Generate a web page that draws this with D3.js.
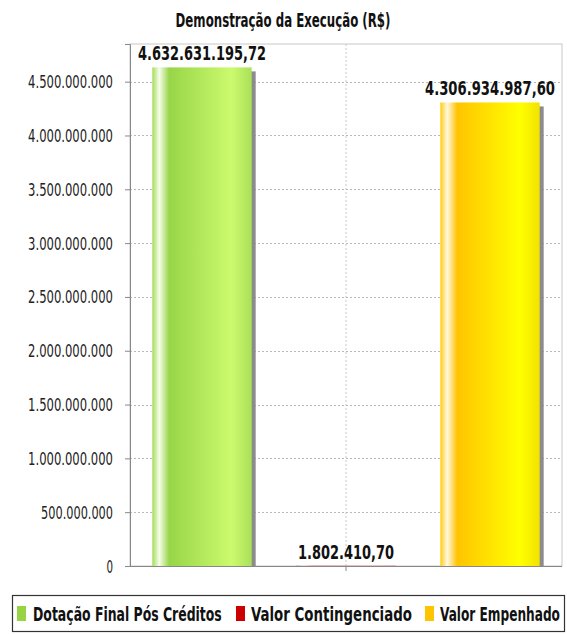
<!DOCTYPE html>
<html>
<head>
<meta charset="utf-8">
<script src="https://cdn.jsdelivr.net/npm/d3@7"></script>
<style>
  body { margin: 0; background: #fff; }
  svg { display: block; }
  text { font-family: "DejaVu Sans Condensed", "DejaVu Sans", sans-serif; }
</style>
</head>
<body>
<svg id="chart" width="567" height="634"></svg>
<script>
// ---- data ----
const title = "Demonstração da Execução (R$)";
const seriesNames = ["Dotação Final Pós Créditos", "Valor Contingenciado", "Valor Empenhado"];
const seriesValues = [4632631195.72, 1802410.70, 4306934987.60];
const valueLabels = ["4.632.631.195,72", "1.802.410,70", "4.306.934.987,60"];
const seriesColors = ["#96d444", "#cc0000", "#ffc400"];
const tickValues = [0, 500000000, 1000000000, 1500000000, 2000000000, 2500000000, 3000000000, 3500000000, 4000000000, 4500000000];
const tickLabels = ["0", "500.000.000", "1.000.000.000", "1.500.000.000", "2.000.000.000", "2.500.000.000", "3.000.000.000", "3.500.000.000", "4.000.000.000", "4.500.000.000"];

(function () {
const svg = d3.select("#chart");
const pLeft = 130, pRight = 562, pTop = 44, pBottom = 566;

const y = d3.scaleLinear().domain([0, 4.85e9]).range([pBottom, pTop]);
const x = d3.scaleBand().domain(seriesNames).range([pLeft, pRight]).paddingInner(0.31).paddingOuter(0.155);

// squeeze a text horizontally to a target width, anchored at (ax, ay)
function fit(textSel, ax, ay, targetW, anchor) {
  const node = textSel.node();
  textSel.attr("x", 0).attr("y", 0).attr("text-anchor", anchor);
  const w = node.getComputedTextLength();
  const s = targetW / w;
  textSel.attr("transform", `translate(${ax},${ay}) scale(${s},1)`);
}

// gradients
const defs = svg.append("defs");
const gradSpecs = [
  [["0%", "#a3dc55"], ["7%", "#f6fdec"], ["17%", "#98d548"], ["80%", "#ccfa6e"], ["100%", "#a9e058"]],
  [["0%", "#d21010"], ["7%", "#ffe0e0"], ["17%", "#cc0000"], ["80%", "#ff3030"], ["100%", "#d01010"]],
  [["0%", "#ffcc10"], ["7%", "#fff8e2"], ["17%", "#ffc400"], ["80%", "#ffff00"], ["100%", "#f2e200"]]
];
gradSpecs.forEach((stops, i) => {
  const g = defs.append("linearGradient").attr("id", "g" + i).attr("x1", "0").attr("x2", "1").attr("y1", "0").attr("y2", "0");
  stops.forEach(s => g.append("stop").attr("offset", s[0]).attr("stop-color", s[1]));
});

// title
const t = svg.append("text").attr("font-size", 19).attr("font-weight", "bold").attr("fill", "#111").text(title);
fit(t, 283, 27, 215, "middle");

// plot border
svg.append("rect").attr("x", pLeft).attr("y", pTop).attr("width", pRight - pLeft).attr("height", pBottom - pTop)
  .attr("fill", "#fff").attr("stroke", "#c8c8c8").attr("stroke-width", 1);

// horizontal gridlines
svg.append("g").selectAll("line").data(tickValues.filter(v => v > 0)).join("line")
  .attr("x1", pLeft).attr("x2", pRight).attr("y1", d => Math.round(y(d)) + 0.5).attr("y2", d => Math.round(y(d)) + 0.5)
  .attr("stroke", "#b8b8b8").attr("stroke-dasharray", "2,2");

// vertical category gridline
const cx = (pLeft + pRight) / 2;
svg.append("line").attr("x1", cx).attr("x2", cx).attr("y1", pTop).attr("y2", pBottom)
  .attr("stroke", "#c8c8c8").attr("stroke-dasharray", "2,2");

// y axis
const yAxis = d3.axisLeft(y).tickValues(tickValues).tickFormat((d, i) => tickLabels[i]).tickSize(5).tickPadding(12);
const ya = svg.append("g").attr("transform", `translate(${pLeft},0)`).call(yAxis);
ya.select(".domain").attr("stroke", "#888");
ya.selectAll(".tick line").attr("stroke", "#888");
ya.selectAll(".tick text")
  .attr("font-size", 18).attr("fill", "#222")
  .attr("font-family", "'DejaVu Sans Condensed', 'DejaVu Sans', sans-serif")
  .each(function (d, i) {
    const sel = d3.select(this);
    sel.attr("dy", null);
    fit(sel, -17, 6, tickLabels[i].length * 85 / 13, "end");
  });

// x axis line + center tick
svg.append("line").attr("x1", pLeft).attr("x2", pRight).attr("y1", pBottom + 0.5).attr("y2", pBottom + 0.5).attr("stroke", "#888");
svg.append("line").attr("x1", cx).attr("x2", cx).attr("y1", pBottom).attr("y2", pBottom + 5).attr("stroke", "#888");

// bars: shadows then bars
const data = seriesNames.map((n, i) => ({ name: n, value: seriesValues[i], label: valueLabels[i], i }));
svg.append("g").selectAll("rect").data(data).join("rect")
  .attr("x", d => x(d.name) + 4).attr("y", d => y(d.value) + 4)
  .attr("width", x.bandwidth()).attr("height", d => Math.max(0, pBottom - y(d.value) - 4))
  .attr("fill", "#8c8c8c");
svg.append("g").selectAll("rect").data(data).join("rect")
  .attr("x", d => x(d.name)).attr("y", d => y(d.value))
  .attr("width", x.bandwidth()).attr("height", d => pBottom - y(d.value))
  .attr("fill", d => `url(#g${d.i})`);

// value labels
const labelW = [128, 96, 130];
svg.append("g").selectAll("text").data(data).join("text")
  .attr("font-size", 20).attr("font-weight", "bold").attr("fill", "#111")
  .text(d => d.label)
  .each(function (d) {
    fit(d3.select(this), x(d.name) + x.bandwidth() / 2, y(d.value) - 7, labelW[d.i], "middle");
  });

// legend
svg.append("rect").attr("x", 12.5).attr("y", 595.5).attr("width", 552).attr("height", 36)
  .attr("fill", "#fff").attr("stroke", "#333").attr("stroke-width", 1.2);
const legendX = [17, 236, 425];
const legendTextX = [33, 251, 440];
const legendW = [189, 161, 120];
const lg = svg.append("g").selectAll("g").data(data).join("g");
lg.append("rect").attr("x", d => legendX[d.i]).attr("y", 606).attr("width", 9).attr("height", 15)
  .attr("fill", d => seriesColors[d.i]);
lg.append("text")
  .attr("font-size", 19).attr("font-weight", "bold").attr("fill", "#111")
  .text(d => d.name)
  .each(function (d) {
    fit(d3.select(this), legendTextX[d.i], 621, legendW[d.i], "start");
  });
})();
</script>
</body>
</html>
